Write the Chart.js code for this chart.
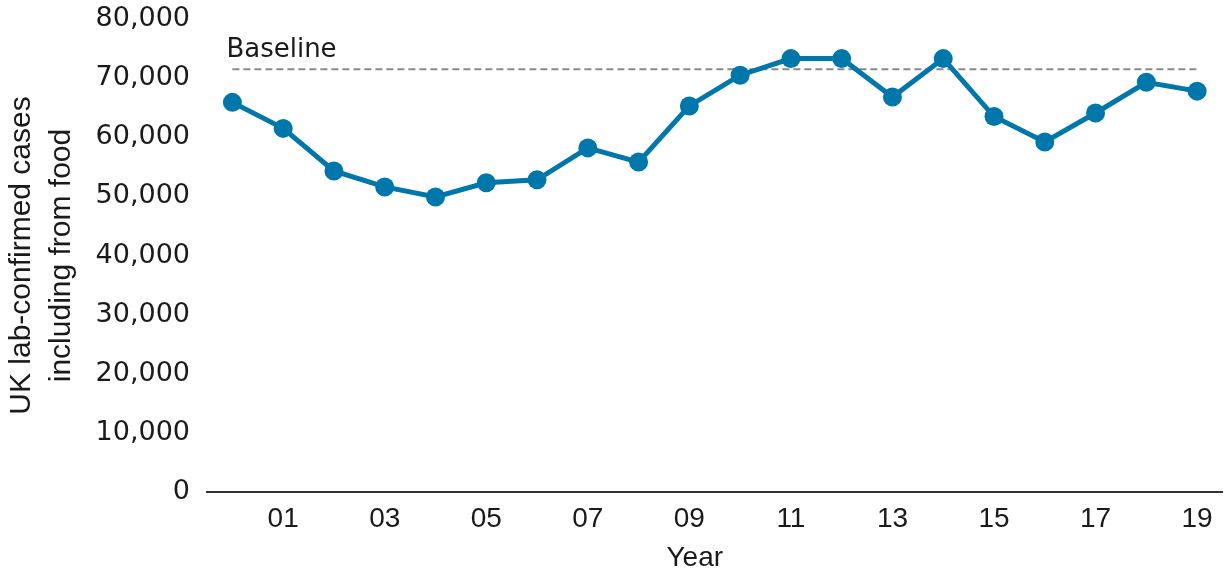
<!DOCTYPE html>
<html>
<head>
<meta charset="utf-8">
<script src="https://cdn.jsdelivr.net/npm/chart.js@4.4.1/dist/chart.umd.min.js"></script>
<style>
  html, body { margin: 0; padding: 0; background: #ffffff; }
  #wrap { width: 1232px; height: 577px; position: relative; }
</style>
</head>
<body>
<div id="wrap"><canvas id="chart" width="1232" height="577"></canvas></div>
<script>
// Years 2000–2019, shown as two-digit labels
const years = ['00', '01', '02', '03', '04', '05', '06', '07', '08', '09',
               '10', '11', '12', '13', '14', '15', '16', '17', '18', '19'];

// UK lab-confirmed cases including from food
const cases = [65900, 61500, 54300, 51600, 49900, 52300, 52800, 58200, 55800, 65300,
               70500, 73300, 73300, 66800, 73300, 63500, 59200, 64100, 69300, 67800];

// Reference level
const baseline = 71500;
const baselineLabel = 'Baseline';

const yTicks = [0, 10000, 20000, 30000, 40000, 50000, 60000, 70000, 80000];
const yTitle = ['UK lab-confirmed cases', 'including from food'];
const xTitle = 'Year';

const BLUE = '#0077aa';
const TEXT = '#1a1a1a';

const annotations = {
  id: 'annotations',
  afterDraw(chart) {
    const { ctx, chartArea, scales } = chart;
    ctx.save();
    // baseline label, sitting above the dashed line at its left end
    ctx.fillStyle = TEXT;
    ctx.font = '26px "DejaVu Sans"';
    ctx.textAlign = 'left';
    ctx.textBaseline = 'middle';
    ctx.fillText(baselineLabel, scales.x.getPixelForValue(0) - 6, scales.y.getPixelForValue(baseline) - 19);
    // x axis title
    ctx.font = '28px "Liberation Sans Narrow", "Liberation Sans", sans-serif';
    ctx.textAlign = 'center';
    ctx.fillText(xTitle, (chartArea.left + chartArea.right) / 2 - 20, chartArea.bottom + 66);
    ctx.restore();
  }
};

new Chart(document.getElementById('chart'), {
  type: 'line',
  data: {
    labels: years,
    datasets: [
      {
        label: 'Cases',
        data: cases,
        borderColor: BLUE,
        backgroundColor: BLUE,
        borderWidth: 5,
        pointRadius: 9.5,
        pointHoverRadius: 9.5,
        pointBackgroundColor: BLUE,
        pointBorderWidth: 0,
        tension: 0,
        order: 1
      },
      {
        label: baselineLabel,
        data: years.map(() => baseline),
        borderColor: '#8a8a8a',
        borderWidth: 2,
        borderDash: [7, 4],
        pointRadius: 0,
        pointHoverRadius: 0,
        tension: 0,
        order: 2
      }
    ]
  },
  options: {
    responsive: false,
    animation: false,
    events: [],
    layout: { padding: { top: 19, right: 4, left: 0, bottom: 0 } },
    plugins: {
      legend: { display: false },
      tooltip: { enabled: false }
    },
    scales: {
      x: {
        type: 'category',
        offset: true,
        grid: { display: false, drawTicks: false },
        border: { display: true, color: '#333333', width: 2 },
        ticks: {
          autoSkip: false,
          maxRotation: 0,
          padding: 10,
          color: TEXT,
          font: { family: '"Liberation Sans Narrow", "Liberation Sans", sans-serif', size: 28 },
          callback: (v, i) => (i % 2 === 1 ? years[i] : '')
        },
        afterFit: (scale) => { scale.height = 85; scale.paddingLeft = 0; scale.paddingRight = 0; }
      },
      y: {
        min: 0,
        max: 80000,
        grid: { display: false, drawTicks: false },
        border: { display: false },
        afterBuildTicks: (scale) => { scale.ticks = yTicks.map(v => ({ value: v })); },
        ticks: {
          padding: 17,
          color: TEXT,
          font: { family: '"DejaVu Sans"', size: 27 },
          callback: (v) => v.toLocaleString('en-US')
        },
        title: {
          display: true,
          text: yTitle,
          color: TEXT,
          padding: { top: 2, bottom: 0 },
          font: { family: '"Liberation Sans", Arial, sans-serif', size: 30, lineHeight: 1.32 }
        },
        afterFit: (scale) => { scale.width = 207; scale.paddingTop = 0; scale.paddingBottom = 0; }
      }
    }
  },
  plugins: [annotations]
});
</script>
</body>
</html>
